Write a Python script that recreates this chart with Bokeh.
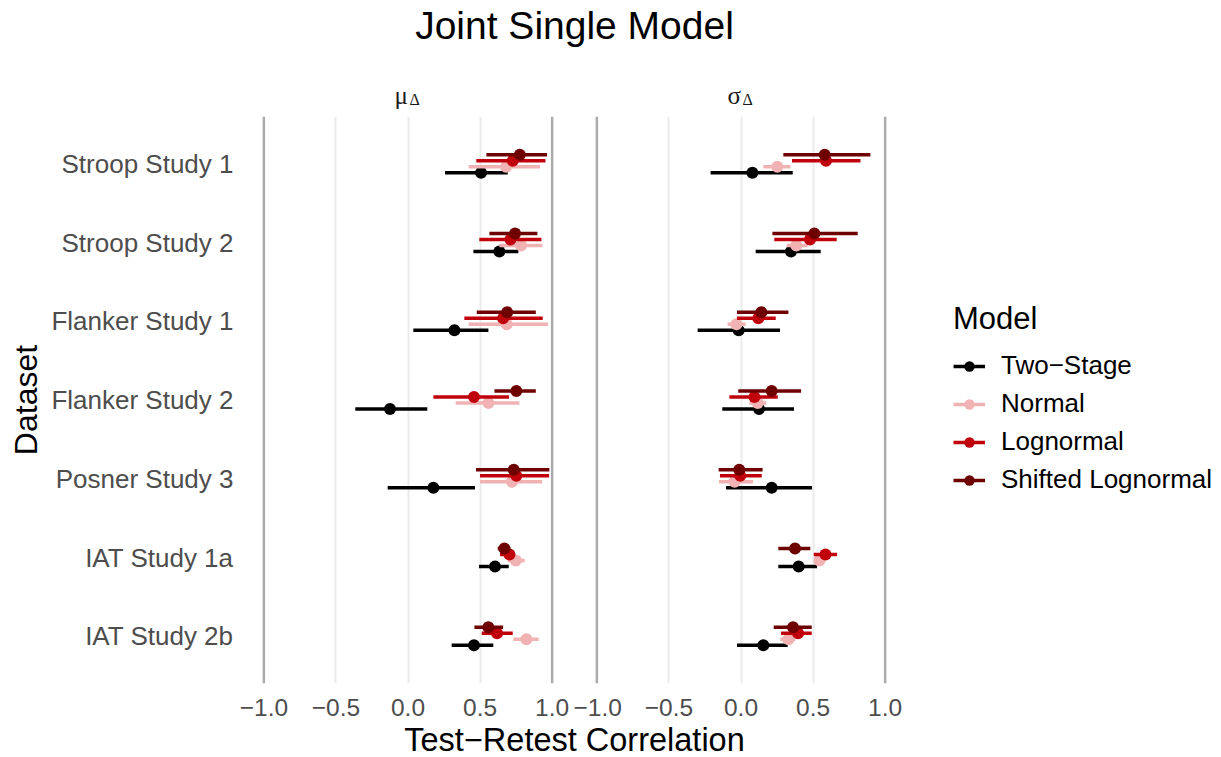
from bokeh.plotting import figure
from bokeh.models import (ColumnDataSource, Range1d, FixedTicker, CustomJSTickFormatter,
                          Span, Legend, LegendItem)
from bokeh.layouts import column, row
from bokeh.embed import file_html
from bokeh.resources import INLINE
from bokeh.core.properties import value

# ---------------- data ----------------
datasets = ["Stroop Study 1", "Stroop Study 2", "Flanker Study 1", "Flanker Study 2",
            "Posner Study 3", "IAT Study 1a", "IAT Study 2b"]
models = ["Two\u2212Stage", "Normal", "Lognormal", "Shifted Lognormal"]
model_colors = ["#000000", "#F0B2B2", "#C0000B", "#6E0000"]
panel_labels = [("\u03bc", "\u0394"), ("\u03c3", "\u0394")]
x_ticks = [-1.0, -0.5, 0.0, 0.5, 1.0]
vline_positions = [-1.0, 1.0]

# mu_Delta panel
mu_est_two_stage = [0.507, 0.634, 0.322, -0.125, 0.176, 0.604, 0.458]
mu_lo_two_stage = [0.257, 0.454, 0.037, -0.366, -0.141, 0.493, 0.303]
mu_hi_two_stage = [0.692, 0.766, 0.558, 0.134, 0.465, 0.699, 0.592]
mu_est_normal = [0.681, 0.785, 0.685, 0.558, 0.722, 0.748, 0.822]
mu_lo_normal = [0.421, 0.634, 0.421, 0.331, 0.500, 0.692, 0.731]
mu_hi_normal = [0.917, 0.933, 0.972, 0.773, 0.931, 0.810, 0.907]
mu_est_lognormal = [0.727, 0.711, 0.660, 0.458, 0.752, 0.704, 0.618]
mu_lo_lognormal = [0.474, 0.495, 0.391, 0.176, 0.500, 0.639, 0.512]
mu_hi_lognormal = [0.954, 0.926, 0.935, 0.701, 0.979, 0.743, 0.727]
mu_est_shifted = [0.776, 0.743, 0.688, 0.752, 0.734, 0.669, 0.558]
mu_lo_shifted = [0.544, 0.565, 0.477, 0.600, 0.472, 0.623, 0.461]
mu_hi_shifted = [0.965, 0.898, 0.887, 0.887, 0.981, 0.711, 0.660]

# sigma_Delta panel
sd_est_two_stage = [0.079, 0.347, -0.016, 0.125, 0.213, 0.400, 0.155]
sd_lo_two_stage = [-0.211, 0.102, -0.301, -0.130, -0.104, 0.259, -0.028]
sd_hi_two_stage = [0.359, 0.553, 0.271, 0.368, 0.493, 0.528, 0.324]
sd_est_normal = [0.252, 0.384, -0.032, 0.116, -0.044, 0.544, 0.329]
sd_lo_normal = [0.155, 0.317, -0.093, 0.058, -0.153, 0.520, 0.273]
sd_hi_normal = [0.343, 0.463, 0.032, 0.176, 0.083, 0.567, 0.377]
sd_est_lognormal = [0.590, 0.479, 0.120, 0.093, -0.005, 0.586, 0.396]
sd_lo_lognormal = [0.354, 0.231, -0.028, -0.081, -0.146, 0.505, 0.278]
sd_hi_lognormal = [0.829, 0.664, 0.241, 0.255, 0.144, 0.667, 0.491]
sd_est_shifted = [0.581, 0.509, 0.141, 0.213, -0.012, 0.375, 0.361]
sd_lo_shifted = [0.294, 0.218, -0.028, -0.019, -0.155, 0.259, 0.227]
sd_hi_shifted = [0.898, 0.810, 0.329, 0.417, 0.150, 0.481, 0.491]

panel_data = [
    [(mu_est_two_stage, mu_lo_two_stage, mu_hi_two_stage),
     (mu_est_normal, mu_lo_normal, mu_hi_normal),
     (mu_est_lognormal, mu_lo_lognormal, mu_hi_lognormal),
     (mu_est_shifted, mu_lo_shifted, mu_hi_shifted)],
    [(sd_est_two_stage, sd_lo_two_stage, sd_hi_two_stage),
     (sd_est_normal, sd_lo_normal, sd_hi_normal),
     (sd_est_lognormal, sd_lo_lognormal, sd_hi_lognormal),
     (sd_est_shifted, sd_lo_shifted, sd_hi_shifted)],
]

# ---------------- styling ----------------
FONT = "Liberation Sans"
SERIF = "Liberation Serif"
DODGE_STEP = 0.076
FRAME_W, FRAME_H = 317, 567
BOTTOM = 40
TOTAL_W = 1221
TITLE_H, STRIP_H, XLAB_H = 58, 58, 34
BORDERS = [(249, 7), (9, 6)]
LEG_W = TOTAL_W - sum(a + b + FRAME_W for a, b in BORDERS)
SPAN_W = 2 * FRAME_W + BORDERS[0][1] + BORDERS[1][0]

n = len(datasets)
x_formatter = CustomJSTickFormatter(
    code="return (tick < 0 ? '\\u2212' : '') + Math.abs(tick).toFixed(1);")
y_formatter = CustomJSTickFormatter(
    args=dict(labels=datasets),
    code="const i = Math.round(tick) - 1; return (i >= 0 && i < labels.length) ? labels[i] : '';")


def bare(**kw):
    f = figure(x_axis_location=None, y_axis_location=None, toolbar_location=None,
               output_backend="svg", outline_line_color=None,
               min_border_top=0, min_border_bottom=0, **kw)
    f.grid.visible = False
    return f


sources = [[], []]


def make_panel(idx):
    is_left = idx == 0
    bl, br = BORDERS[idx]
    kw = dict(frame_width=FRAME_W, frame_height=FRAME_H,
              x_range=Range1d(-1.1, 1.1), y_range=Range1d(n + 0.6, 0.4),
              toolbar_location=None, output_backend="svg",
              min_border_top=0, min_border_bottom=BOTTOM,
              min_border_left=bl, min_border_right=br,
              outline_line_color=None)
    if is_left:
        p = figure(**kw)
    else:
        p = figure(y_axis_location=None, **kw)

    p.xaxis.ticker = FixedTicker(ticks=x_ticks)
    p.xaxis.formatter = x_formatter
    p.xaxis.axis_line_color = None
    p.xaxis.major_tick_line_color = None
    p.xaxis.minor_tick_line_color = None
    p.xaxis.major_label_text_font = FONT
    p.xaxis.major_label_text_font_size = "24.5px"
    p.xaxis.major_label_text_color = "#4D4D4D"
    p.xaxis.major_label_standoff = 9
    p.xgrid.ticker = FixedTicker(ticks=x_ticks)
    p.xgrid.grid_line_color = "#EBEBEB"
    p.xgrid.grid_line_width = 2
    p.ygrid.visible = False

    if is_left:
        p.yaxis.ticker = FixedTicker(ticks=list(range(1, n + 1)))
        p.yaxis.formatter = y_formatter
        p.yaxis.axis_line_color = None
        p.yaxis.major_tick_line_color = None
        p.yaxis.minor_tick_line_color = None
        p.yaxis.major_label_text_font = FONT
        p.yaxis.major_label_text_font_size = "26px"
        p.yaxis.major_label_text_color = "#4D4D4D"
        p.yaxis.major_label_standoff = 10
        p.yaxis.axis_label = "Dataset"
        p.yaxis.axis_label_text_font = FONT
        p.yaxis.axis_label_text_font_size = "32px"
        p.yaxis.axis_label_text_font_style = "normal"
        p.yaxis.axis_label_text_color = "#000000"
        p.yaxis.axis_label_standoff = 4

    for loc in vline_positions:
        p.add_layout(Span(location=loc, dimension="height",
                          line_color="#ABABAB", line_width=2.4))

    for k, (model, color) in enumerate(zip(models, model_colors)):
        est, lo, hi = panel_data[idx][k]
        off = (1.5 - k) * DODGE_STEP
        src = ColumnDataSource(dict(y=[i + 1 + off for i in range(n)],
                                    est=est, lo=lo, hi=hi))
        sources[idx].append(src)
        p.segment(x0="lo", y0="y", x1="hi", y1="y", source=src,
                  line_color=color, line_width=3.6, line_cap="butt")
        p.scatter(x="est", y="y", source=src, size=12, marker="circle",
                  fill_color=color, line_color=None)
    return p


left = make_panel(0)
right = make_panel(1)

# strip labels (facet titles) sharing the panels' x ranges
strips = []
for idx, pnl in enumerate([left, right]):
    bl, br = BORDERS[idx]
    s = bare(frame_width=FRAME_W, frame_height=STRIP_H, min_border_left=bl,
             min_border_right=br, x_range=pnl.x_range, y_range=Range1d(0, STRIP_H))
    main, sub = panel_labels[idx]
    s.text(x=[0], y=[21.5], text=[main], text_font=value(SERIF), text_font_size="25px",
           text_align="right", text_baseline="alphabetic", text_color="#1A1A1A")
    s.text(x=[0], y=[17.5], text=[sub], text_font=value(SERIF), text_font_size="16px",
           text_align="left", text_baseline="alphabetic", x_offset=1.5, text_color="#1A1A1A")
    strips.append(s)

# legend figure (its renderers lie outside its own ranges, only the legend shows)
lf = bare(frame_width=LEG_W, frame_height=FRAME_H, min_border_left=0, min_border_right=0,
          x_range=Range1d(0, 1), y_range=Range1d(-2, -1))
lf.min_border_bottom = BOTTOM
items = []
for k, (model, color) in enumerate(zip(models, model_colors)):
    src = sources[1][k]
    r1 = lf.segment(x0="lo", y0="y", x1="hi", y1="y", source=src,
                    line_color=color, line_width=3.6)
    r2 = lf.scatter(x="est", y="y", source=src, size=10, marker="circle",
                    fill_color=color, line_color=None)
    items.append(LegendItem(label=model, renderers=[r1, r2]))
legend = Legend(items=items, title="Model", location="center_left", margin=48,
                padding=0, spacing=0, label_height=38, glyph_width=32, glyph_height=26,
                label_standoff=16, title_standoff=10,
                label_text_font=FONT, label_text_font_size="26px",
                label_text_color="#000000",
                title_text_font=FONT, title_text_font_size="31px",
                title_text_font_style="normal", title_text_color="#000000",
                border_line_color=None, background_fill_alpha=0)
lf.add_layout(legend)


# centred text strips (title, shared x-axis title)
def text_strip(height, txt, size, center_from_top):
    f = bare(frame_width=SPAN_W, frame_height=height, min_border_left=BORDERS[0][0],
             min_border_right=TOTAL_W - BORDERS[0][0] - SPAN_W,
             x_range=Range1d(0, 1), y_range=Range1d(0, height))
    f.text(x=[0.5], y=[height - center_from_top], text=[txt], text_font=value(FONT),
           text_font_size=size, text_align="center", text_baseline="middle",
           text_color="#000000")
    return f


title_fig = text_strip(TITLE_H, "Joint Single Model", "39px", 25)
xlab_fig = text_strip(XLAB_H, "Test\u2212Retest Correlation", "32.5px", 16)

layout = column(title_fig, row(*strips), row(left, right, lf), xlab_fig)

open("out.html", "w").write(file_html(layout, INLINE))
